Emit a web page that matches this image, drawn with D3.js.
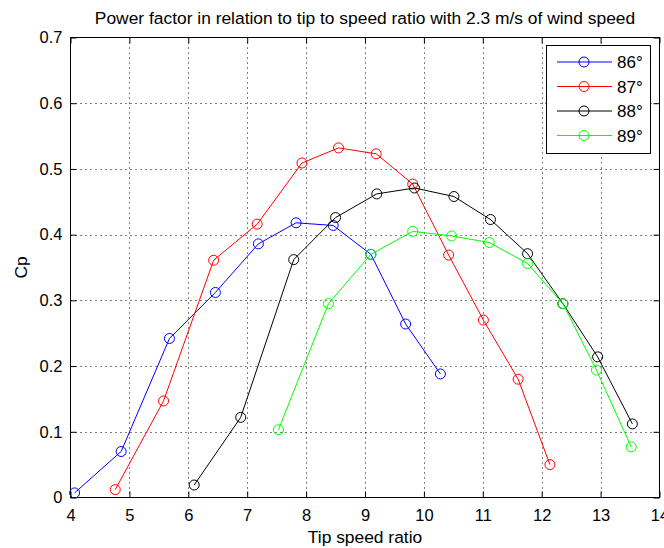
<!DOCTYPE html>
<html>
<head>
<meta charset="utf-8">
<script src="https://cdn.jsdelivr.net/npm/d3@7"></script>
<style>
  html, body { margin: 0; padding: 0; background: #fff; }
  svg { display: block; }
  text { font-family: "Liberation Sans", Arial, sans-serif; fill: #000; }
</style>
</head>
<body>
<svg id="chart" width="664" height="548"></svg>
<script>
// ---- data ----
const titleText = "Power factor in relation to tip to speed ratio with 2.3 m/s of wind speed";
const xLabel = "Tip speed ratio";
const yLabel = "Cp";
const xTicks = [4, 5, 6, 7, 8, 9, 10, 11, 12, 13, 14];
const yTicks = [0, 0.1, 0.2, 0.3, 0.4, 0.5, 0.6, 0.7];
const seriesNames = ["86°", "87°", "88°", "89°"];
const seriesColors = ["#0000ff", "#ff0000", "#000000", "#00ff00"];

const x86 = [4.07, 4.86, 5.68, 6.46, 7.19, 7.83, 8.46, 9.10, 9.69, 10.28];
const y86 = [0.007, 0.070, 0.242, 0.312, 0.386, 0.418, 0.414, 0.370, 0.264, 0.188];
const x87 = [4.76, 5.58, 6.43, 7.17, 7.93, 8.55, 9.19, 9.81, 10.42, 11.01, 11.60, 12.14];
const y87 = [0.012, 0.147, 0.361, 0.416, 0.509, 0.532, 0.523, 0.477, 0.369, 0.270, 0.180, 0.050];
const x88 = [6.10, 6.89, 7.79, 8.50, 9.20, 9.84, 10.51, 11.13, 11.76, 12.36, 12.95, 13.54];
const y88 = [0.019, 0.122, 0.362, 0.426, 0.462, 0.471, 0.458, 0.423, 0.371, 0.295, 0.214, 0.112];
const x89 = [7.53, 8.38, 9.10, 9.81, 10.47, 11.11, 11.76, 12.36, 12.93, 13.52];
const y89 = [0.103, 0.295, 0.370, 0.405, 0.398, 0.388, 0.356, 0.295, 0.194, 0.077];

const seriesX = [x86, x87, x88, x89];
const seriesY = [y86, y87, y88, y89];

// ---- layout ----
const svg = d3.select("#chart");
const L = 70.5, R = 659.5, T = 37.5, B = 497.5;
const tickFs = 16.5, labelFs = 17.4, legendFs = 17;

const x = d3.scaleLinear().domain([4, 14]).range([L, R]);
const y = d3.scaleLinear().domain([0, 0.7]).range([B, T]);

// grid
const grid = svg.append("g");
grid.selectAll("line.gx").data(xTicks.slice(1, -1)).join("line")
  .attr("x1", d => Math.round(x(d)) + 0.5).attr("x2", d => Math.round(x(d)) + 0.5)
  .attr("y1", T).attr("y2", B)
  .attr("stroke", "#000").attr("stroke-width", 1).attr("stroke-dasharray", "1,4");
grid.selectAll("line.gy").data(yTicks.slice(1, -1)).join("line")
  .attr("y1", d => Math.round(y(d)) + 0.5).attr("y2", d => Math.round(y(d)) + 0.5)
  .attr("x1", L).attr("x2", R)
  .attr("stroke", "#000").attr("stroke-width", 1).attr("stroke-dasharray", "1,4");

// axes (inward ticks, MATLAB style)
const tick = 6;
const xAxisB = d3.axisBottom(x).tickValues(xTicks).tickSize(-tick).tickPadding(12).tickFormat(d3.format("d"));
const xAxisT = d3.axisTop(x).tickValues(xTicks).tickSize(-tick).tickFormat("");
const yAxisL = d3.axisLeft(y).tickValues(yTicks).tickSize(-tick).tickPadding(8).tickFormat(d => d === 0 ? "0" : d3.format(".1f")(d));
const yAxisR = d3.axisRight(y).tickValues(yTicks).tickSize(-tick).tickFormat("");

function styleAxis(g) {
  g.select(".domain").remove();
  g.selectAll(".tick line").attr("stroke", "#000");
  g.selectAll("text").attr("font-size", tickFs).attr("font-family", "Liberation Sans, Arial, sans-serif").attr("fill", "#000");
}
svg.append("g").attr("transform", `translate(0,${B})`).call(xAxisB).call(styleAxis);
svg.append("g").attr("transform", `translate(0,${T})`).call(xAxisT).call(styleAxis);
svg.append("g").attr("transform", `translate(${L},0)`).call(yAxisL).call(styleAxis);
svg.append("g").attr("transform", `translate(${R},0)`).call(yAxisR).call(styleAxis);

// frame
svg.append("rect").attr("x", L).attr("y", T).attr("width", R - L).attr("height", B - T)
  .attr("fill", "none").attr("stroke", "#000").attr("stroke-width", 1);

// series
const line = d3.line().x(d => x(d[0])).y(d => y(d[1]));
seriesNames.forEach((name, i) => {
  const pts = seriesX[i].map((xv, j) => [xv, seriesY[i][j]]);
  const g = svg.append("g");
  g.append("path").datum(pts).attr("d", line)
    .attr("fill", "none").attr("stroke", seriesColors[i]).attr("stroke-width", 1);
  g.selectAll("circle").data(pts).join("circle")
    .attr("cx", d => x(d[0])).attr("cy", d => y(d[1])).attr("r", 5)
    .attr("fill", "none").attr("stroke", seriesColors[i]).attr("stroke-width", 1);
});

// legend
const lg = svg.append("g");
lg.append("rect").attr("x", 546.5).attr("y", 45.5).attr("width", 104).attr("height", 108)
  .attr("fill", "#fff").attr("stroke", "#000").attr("stroke-width", 1);
const legY = [62, 86.5, 111, 135.5];
seriesNames.forEach((name, i) => {
  lg.append("line").attr("x1", 557).attr("x2", 612).attr("y1", legY[i]).attr("y2", legY[i])
    .attr("stroke", seriesColors[i]).attr("stroke-width", 1);
  lg.append("circle").attr("cx", 584).attr("cy", legY[i]).attr("r", 5)
    .attr("fill", "none").attr("stroke", seriesColors[i]).attr("stroke-width", 1);
  lg.append("text").attr("x", 617).attr("y", legY[i]).attr("dy", "0.36em")
    .attr("font-size", legendFs).text(name);
});

// title and labels
svg.append("text").attr("x", (L + R) / 2).attr("y", 24).attr("text-anchor", "middle")
  .attr("font-size", labelFs).text(titleText);
svg.append("text").attr("x", (L + R) / 2).attr("y", 543).attr("text-anchor", "middle")
  .attr("font-size", labelFs).text(xLabel);
svg.append("text").attr("transform", `translate(27,${(T + B) / 2}) rotate(-90)`)
  .attr("text-anchor", "middle").attr("font-size", labelFs).text(yLabel);
</script>
</body>
</html>
